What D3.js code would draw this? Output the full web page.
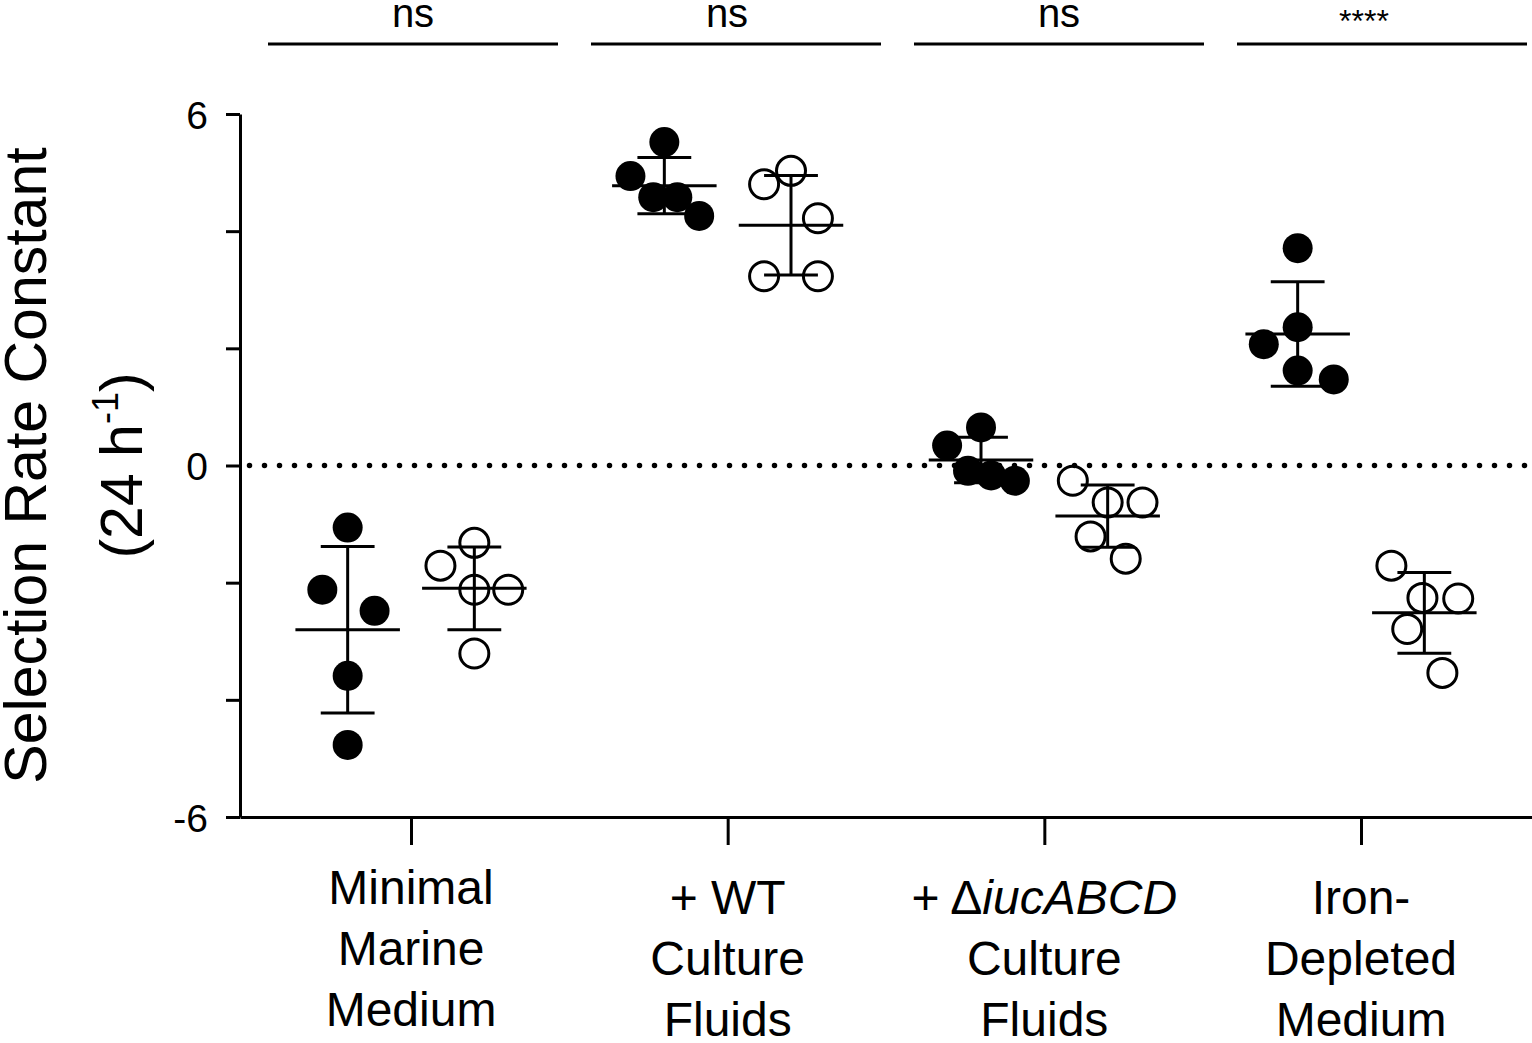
<!DOCTYPE html>
<html>
<head>
<meta charset="utf-8">
<script src="https://cdn.jsdelivr.net/npm/d3@7"></script>
<style>
  html, body { margin: 0; padding: 0; background: #fff; }
  svg { display: block; }
  text { font-family: "Liberation Sans", Arial, Helvetica, sans-serif; fill: #000; }
</style>
</head>
<body>
<svg id="chart" width="1532" height="1043"></svg>
<script>
// ---------------- data ----------------
const categories = ["Minimal Marine Medium", "+ WT Culture Fluids", "+ ΔiucABCD Culture Fluids", "Iron-Depleted Medium"];
const filledValues = [
  [-1.06, -2.12, -2.48, -3.59, -4.77],
  [5.52, 4.94, 4.58, 4.58, 4.26],
  [0.65, 0.34, -0.09, -0.17, -0.26],
  [3.71, 2.36, 2.07, 1.62, 1.47]
];
const openValues = [
  [-1.32, -1.71, -2.12, -2.12, -3.21],
  [5.03, 4.80, 4.22, 3.23, 3.23],
  [-0.26, -0.63, -0.63, -1.21, -1.59],
  [-1.71, -2.26, -2.27, -2.79, -3.54]
];
// horizontal scatter spread of the dots, in category units
const filledJitter = [
  [0, -0.08, 0.085, 0, 0],
  [0, -0.107, -0.035, 0.041, 0.11],
  [0, -0.107, -0.041, 0.032, 0.107],
  [0, 0, -0.107, 0, 0.114]
];
const openJitter = [
  [0, -0.107, 0, 0.107, 0],
  [0, -0.085, 0.085, -0.085, 0.085],
  [-0.11, 0, 0.11, -0.054, 0.057],
  [-0.104, -0.006, 0.107, -0.054, 0.057]
];
const significance = ["ns", "ns", "ns", "****"];
const yTicks = [-6, -4, -2, 0, 2, 4, 6];
const yTickLabels = ["-6", "", "", "0", "", "", "6"];

// ---------------- layout ----------------
const svg = d3.select("#chart");
const y = d3.scaleLinear().domain([-6, 6]).range([817, 114]);
const x = d3.scaleLinear().domain([-0.54, 3.54]).range([240, 1532]);
const seriesOffset = 0.2;
const meanHalf = 0.165, capHalf = 0.085;
const lw = 3;

// zero dotted line
svg.append("line")
  .attr("x1", x(-0.51)).attr("x2", x(3.54))
  .attr("y1", y(0)).attr("y2", y(0))
  .attr("stroke", "#000").attr("stroke-width", 5.5)
  .attr("stroke-linecap", "round").attr("stroke-dasharray", "0 15");

// y axis
const yAxis = d3.axisLeft(y).tickValues(yTicks).tickSize(14).tickSizeOuter(0).tickPadding(18)
  .tickFormat((d, i) => yTickLabels[i]);
const gy = svg.append("g").attr("transform", `translate(${x(-0.54)},0)`).call(yAxis);
gy.select(".domain").attr("stroke-width", lw);
gy.selectAll(".tick line").attr("stroke-width", lw);
gy.selectAll(".tick text").attr("font-size", 39).attr("font-family", "Liberation Sans, Arial, sans-serif").attr("dy", "0.36em");

// x axis
const xAxis = d3.axisBottom(x).tickValues([0, 1, 2, 3]).tickSize(28).tickSizeOuter(0).tickFormat("");
const gx = svg.append("g").attr("transform", `translate(0,${y(-6)})`).call(xAxis);
gx.select(".domain").attr("stroke-width", lw);
gx.selectAll(".tick line").attr("stroke-width", lw);

// x category labels (multi-line)
const labelLines = [
  [["Minimal"], ["Marine"], ["Medium"]],
  [["+ WT"], ["Culture"], ["Fluids"]],
  [["+ Δ", "iucABCD"], ["Culture"], ["Fluids"]],
  [["Iron-"], ["Depleted"], ["Medium"]]
];
labelLines.forEach((lines, gi) => {
  const top = gi === 0 ? 904 : 914;
  lines.forEach((parts, li) => {
    const t = svg.append("text")
      .attr("x", x(gi)).attr("y", top + li * 61)
      .attr("text-anchor", "middle").attr("font-size", 48);
    parts.forEach((p, pi) => {
      const ts = t.append("tspan").text(p);
      if (pi === 1) ts.attr("font-style", "italic");
    });
  });
});

// y title
const title = svg.append("g").attr("transform", `translate(0,${y(0)}) rotate(-90)`);
title.append("text").attr("x", 0).attr("y", 46).attr("text-anchor", "middle")
  .attr("font-size", 59).text("Selection Rate Constant");
const t2 = title.append("text").attr("x", 0).attr("y", 142).attr("text-anchor", "middle").attr("font-size", 59);
t2.append("tspan").text("(24 h");
t2.append("tspan").attr("font-size", 36).attr("dy", -24).text("-1");
t2.append("tspan").attr("dy", 24).text(")");

// significance bars
significance.forEach((s, i) => {
  const x1 = 268 + i * 323, x2 = x1 + 290;
  svg.append("line").attr("x1", x1).attr("x2", x2).attr("y1", 44).attr("y2", 44)
    .attr("stroke", "#000").attr("stroke-width", lw);
  svg.append("text").attr("x", (x1 + x2) / 2 - (i === 1 ? 9 : i === 3 ? 18 : 0))
    .attr("y", s === "ns" ? 27 : 32)
    .attr("text-anchor", "middle").attr("font-size", s === "ns" ? 40 : 32).text(s);
});

// mean ± SD and points
function drawSeries(values, jitter, off, filled) {
  values.forEach((vals, gi) => {
    const cx = gi + off;
    const m = d3.mean(vals), sd = d3.deviation(vals);
    const g = svg.append("g").attr("stroke", "#000").attr("stroke-width", lw);
    g.append("line").attr("x1", x(cx)).attr("x2", x(cx)).attr("y1", y(m + sd)).attr("y2", y(m - sd));
    g.append("line").attr("x1", x(cx - meanHalf)).attr("x2", x(cx + meanHalf)).attr("y1", y(m)).attr("y2", y(m));
    [m + sd, m - sd].forEach(v => {
      g.append("line").attr("x1", x(cx - capHalf)).attr("x2", x(cx + capHalf)).attr("y1", y(v)).attr("y2", y(v));
    });
  });
  values.forEach((vals, gi) => {
    svg.append("g").selectAll("circle").data(vals).join("circle")
      .attr("cx", (d, i) => x(gi + off + jitter[gi][i]))
      .attr("cy", d => y(d))
      .attr("r", filled ? 15 : 14.5)
      .attr("fill", filled ? "#000" : "none")
      .attr("stroke", filled ? "none" : "#000")
      .attr("stroke-width", filled ? 0 : 3);
  });
}
drawSeries(filledValues, filledJitter, -seriesOffset, true);
drawSeries(openValues, openJitter, seriesOffset, false);
</script>
</body>
</html>
